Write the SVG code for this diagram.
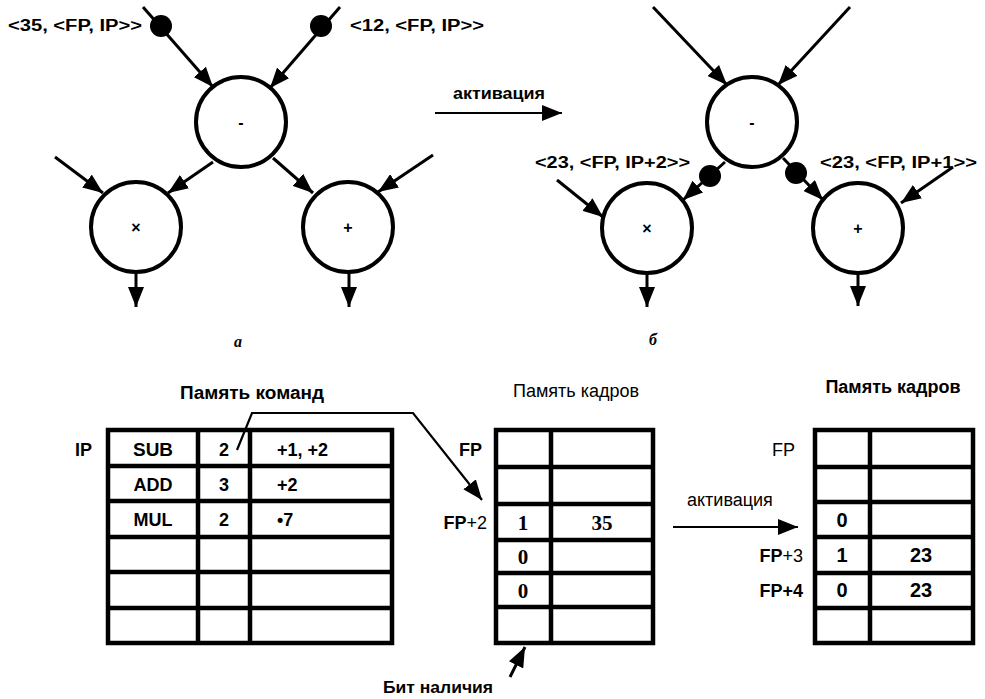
<svg xmlns="http://www.w3.org/2000/svg" width="985" height="699" viewBox="0 0 985 699">
<defs>
<marker id="ah" markerUnits="userSpaceOnUse" markerWidth="21" markerHeight="16" refX="20" refY="8" orient="auto">
<path d="M0,0 L20,8 L0,16 z" fill="#000"/>
</marker>
<style>
.node{fill:#fff;stroke:#000;stroke-width:4}
.edge{stroke:#000;stroke-width:3;fill:none}
.thin{stroke:#000;stroke-width:2.2;fill:none}
.tok{fill:#000}
.lbl{font-family:"Liberation Sans",Arial,sans-serif;font-weight:bold;font-size:16px;fill:#000}
.sym{font-family:"Liberation Sans",Arial,sans-serif;font-weight:bold;font-size:16px;fill:#000;text-anchor:middle}
.tbl{fill:none;stroke:#000;stroke-width:4.5}
.tl{stroke:#000;stroke-width:4.5}
.it{font-family:"Liberation Sans",Arial,sans-serif;font-weight:bold;font-size:18px;fill:#000}
.sf{font-family:"Liberation Serif","Times New Roman",serif;font-weight:bold;font-size:21px;fill:#000;text-anchor:middle}
.ss{font-family:"Liberation Sans",Arial,sans-serif;font-weight:bold;font-size:20px;fill:#000;text-anchor:middle}
.reg{font-family:"Liberation Sans",Arial,sans-serif;font-size:18px;fill:#000}
.cap{font-family:"Liberation Serif","Times New Roman",serif;font-style:italic;font-weight:bold;font-size:16px;fill:#000;text-anchor:middle}
</style>
</defs>

<!-- ===== Graph a ===== -->
<g id="edges-a">
<line class="edge" x1="143" y1="7" x2="213" y2="87" marker-end="url(#ah)"/>
<line class="edge" x1="340" y1="7" x2="270" y2="88" marker-end="url(#ah)"/>
<line class="edge" x1="213" y1="162" x2="168" y2="193" marker-end="url(#ah)"/>
<line class="edge" x1="273" y1="158" x2="313" y2="193" marker-end="url(#ah)"/>
<line class="edge" x1="55" y1="157" x2="103" y2="193" marker-end="url(#ah)"/>
<line class="edge" x1="433" y1="155" x2="378" y2="192" marker-end="url(#ah)"/>
<line class="edge" x1="136" y1="273" x2="136" y2="307" marker-end="url(#ah)"/>
<line class="edge" x1="349" y1="273" x2="349" y2="307" marker-end="url(#ah)"/>
</g>
<g id="tokens-a">
<circle class="tok" cx="161" cy="26" r="11"/>
<circle class="tok" cx="321" cy="26" r="11"/>
<text class="lbl" x="8" y="31" textLength="134" lengthAdjust="spacingAndGlyphs">&lt;35, &lt;FP, IP&gt;&gt;</text>
<text class="lbl" x="350" y="31" textLength="134" lengthAdjust="spacingAndGlyphs">&lt;12, &lt;FP, IP&gt;&gt;</text>
</g>
<g id="a-sub"><circle class="node" cx="241" cy="122" r="45"/><text class="sym" x="241" y="128">-</text></g>
<g id="a-mul"><circle class="node" cx="136" cy="227" r="45"/><text class="sym" x="136" y="233">×</text></g>
<g id="a-add"><circle class="node" cx="348" cy="227" r="45"/><text class="sym" x="348" y="233">+</text></g>
<text class="cap" x="238" y="347">а</text>

<!-- activation arrow top -->
<g id="act-top">
<text class="lbl" x="453" y="99" font-size="12" textLength="92" lengthAdjust="spacingAndGlyphs">активация</text>
<line class="thin" x1="435" y1="113" x2="562" y2="113" marker-end="url(#ah)"/>
</g>

<!-- ===== Graph b ===== -->
<g id="edges-b">
<line class="edge" x1="653" y1="7" x2="727" y2="85" marker-end="url(#ah)"/>
<line class="edge" x1="850" y1="7" x2="778" y2="85" marker-end="url(#ah)"/>
<line class="edge" x1="725" y1="162" x2="683" y2="200" marker-end="url(#ah)"/>
<line class="edge" x1="783" y1="158" x2="823" y2="200" marker-end="url(#ah)"/>
<line class="edge" x1="557" y1="180" x2="603" y2="217" marker-end="url(#ah)"/>
<line class="edge" x1="953" y1="167" x2="901" y2="203" marker-end="url(#ah)"/>
<line class="edge" x1="647" y1="273" x2="647" y2="307" marker-end="url(#ah)"/>
<line class="edge" x1="858" y1="273" x2="858" y2="306" marker-end="url(#ah)"/>
</g>
<g id="tokens-b">
<circle class="tok" cx="710" cy="176" r="11"/>
<circle class="tok" cx="796" cy="173" r="11"/>
<text class="lbl" x="535" y="168" textLength="155" lengthAdjust="spacingAndGlyphs">&lt;23, &lt;FP, IP+2&gt;&gt;</text>
<text class="lbl" x="820" y="168" textLength="157" lengthAdjust="spacingAndGlyphs">&lt;23, &lt;FP, IP+1&gt;&gt;</text>
</g>
<g id="b-sub"><circle class="node" cx="752" cy="122" r="45"/><text class="sym" x="752" y="128">-</text></g>
<g id="b-mul"><circle class="node" cx="647" cy="228" r="45"/><text class="sym" x="647" y="234">×</text></g>
<g id="b-add"><circle class="node" cx="858" cy="228" r="45"/><text class="sym" x="858" y="234">+</text></g>
<text class="cap" x="653" y="345">б</text>

<!-- ===== Instruction memory ===== -->
<g id="instr-mem">
<text class="it" x="180" y="399" textLength="144" lengthAdjust="spacingAndGlyphs">Память команд</text>
<rect class="tbl" x="108" y="430" width="284" height="213"/>
<line class="tl" x1="108" y1="466" x2="392" y2="466"/>
<line class="tl" x1="108" y1="501" x2="392" y2="501"/>
<line class="tl" x1="108" y1="537" x2="392" y2="537"/>
<line class="tl" x1="108" y1="572" x2="392" y2="572"/>
<line class="tl" x1="108" y1="608" x2="392" y2="608"/>
<line class="tl" x1="198" y1="430" x2="198" y2="643"/>
<line class="tl" x1="250" y1="430" x2="250" y2="643"/>
<text class="it" x="75" y="456">IP</text>
<text class="it" x="153" y="456" text-anchor="middle" textLength="40" lengthAdjust="spacingAndGlyphs">SUB</text>
<text class="it" x="224" y="456" text-anchor="middle">2</text>
<text class="it" x="277" y="456">+1, +2</text>
<text class="it" x="153" y="491" text-anchor="middle">ADD</text>
<text class="it" x="224" y="491" text-anchor="middle">3</text>
<text class="it" x="277" y="491">+2</text>
<text class="it" x="153" y="526" text-anchor="middle">MUL</text>
<text class="it" x="224" y="526" text-anchor="middle">2</text>
<text class="it" x="277" y="526" font-weight="normal">•7</text>
</g>

<!-- pointer from instruction to frame -->
<g id="connectors-bottom">
<polyline class="thin" points="237,450 252,413 413,413 482,500" marker-end="url(#ah)"/>
<line class="edge" x1="510" y1="677" x2="525" y2="647" marker-end="url(#ah)"/>
<line class="thin" x1="673" y1="527" x2="798" y2="527" marker-end="url(#ah)"/>
<text class="reg" x="687" y="506">активация</text>
<text class="lbl" x="383" y="693" font-size="12" textLength="110" lengthAdjust="spacingAndGlyphs">Бит наличия</text>
</g>

<!-- ===== Frame memory 1 ===== -->
<g id="frame-mem-1">
<text class="reg" x="576" y="397" text-anchor="middle">Память  кадров</text>
<rect class="tbl" x="496" y="430" width="157" height="213"/>
<line class="tl" x1="496" y1="467" x2="653" y2="467"/>
<line class="tl" x1="496" y1="504" x2="653" y2="504"/>
<line class="tl" x1="496" y1="540" x2="653" y2="540"/>
<line class="tl" x1="496" y1="573" x2="653" y2="573"/>
<line class="tl" x1="496" y1="607" x2="653" y2="607"/>
<line class="tl" x1="551" y1="430" x2="551" y2="643"/>
<text class="it" x="482" y="456" text-anchor="end">FP</text>
<text class="it" x="487" y="529" text-anchor="end">FP<tspan font-weight="normal">+2</tspan></text>
<text class="sf" x="523" y="530">1</text>
<text class="sf" x="602" y="530">35</text>
<text class="sf" x="523" y="564">0</text>
<text class="sf" x="523" y="598">0</text>
</g>

<!-- ===== Frame memory 2 ===== -->
<g id="frame-mem-2">
<text class="it" x="893" y="393" text-anchor="middle">Память кадров</text>
<rect class="tbl" x="815" y="430" width="158" height="213"/>
<line class="tl" x1="815" y1="467" x2="973" y2="467"/>
<line class="tl" x1="815" y1="502" x2="973" y2="502"/>
<line class="tl" x1="815" y1="537" x2="973" y2="537"/>
<line class="tl" x1="815" y1="573" x2="973" y2="573"/>
<line class="tl" x1="815" y1="608" x2="973" y2="608"/>
<line class="tl" x1="870" y1="430" x2="870" y2="643"/>
<text class="reg" x="795" y="456" text-anchor="end">FP</text>
<text class="it" x="803" y="562" text-anchor="end">FP<tspan font-weight="normal">+3</tspan></text>
<text class="it" x="803" y="597" text-anchor="end">FP+4</text>
<text class="ss" x="842" y="527">0</text>
<text class="ss" x="842" y="562">1</text>
<text class="ss" x="921" y="562">23</text>
<text class="ss" x="842" y="597">0</text>
<text class="ss" x="921" y="597">23</text>
</g>
</svg>
